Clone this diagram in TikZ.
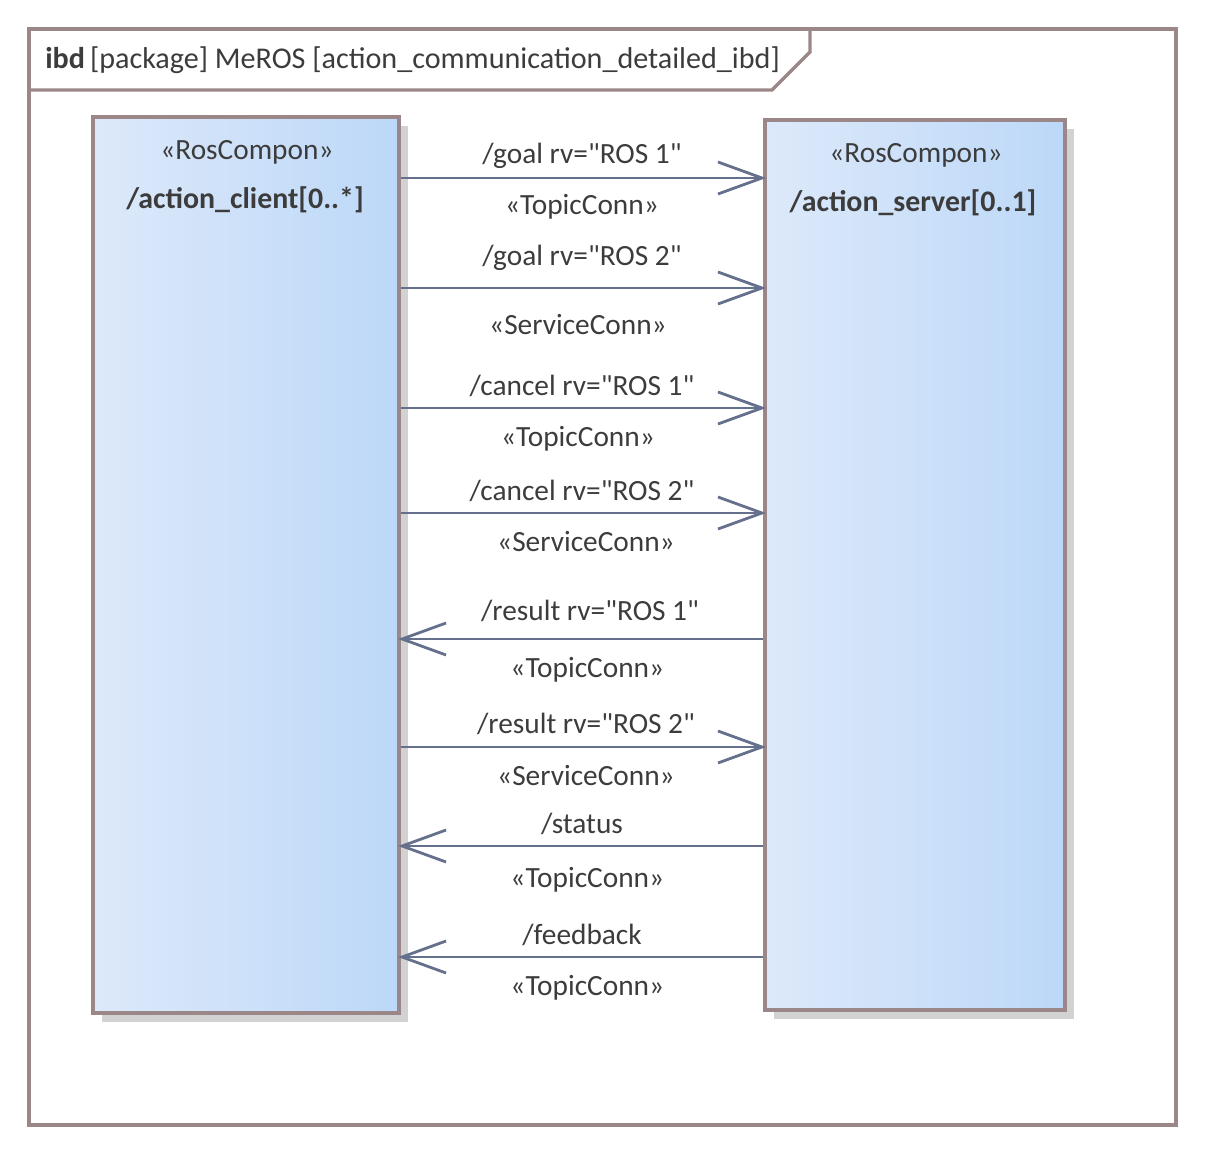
\documentclass[tikz,border=0pt]{standalone}
\usepackage{fontspec}
\setmainfont{Carlito}[Ligatures=TeXOff]
\usetikzlibrary{arrows.meta,positioning}

\definecolor{frameline}{RGB}{155,135,135}
\definecolor{connline}{RGB}{100,112,140}
\definecolor{partleft}{RGB}{221,233,250}
\definecolor{partright}{RGB}{188,216,248}
\definecolor{shadowgray}{RGB}{210,210,210}
\definecolor{textgray}{RGB}{60,60,60}

\begin{document}
\begin{tikzpicture}[
  x=0.75pt, y=-0.75pt,
  >={Straight Barb[length=33pt,width=24pt]},
  font=\fontsize{22}{26}\selectfont,
  frame/.style={draw=frameline, line width=2.5pt},
  part/.style={draw=frameline, line width=2.4pt,
               left color=partleft, right color=partright, inner sep=0pt},
  conn/.style={connline, line width=2.1pt, shorten >=-2pt},
  lbl/.style={text=textgray, inner sep=0pt},
  above lbl/.style={lbl, midway, anchor=base, yshift=#1*0.75pt},
  below lbl/.style={lbl, midway, anchor=base, yshift=-#1*0.75pt},
]
  \useasboundingbox (0,0) rectangle (1206,1155);

  %% Diagram frame with header tab
  \draw[frame] (29,29) rectangle (1176,1125);
  \draw[frame] (29,90) -- (772,90) -- (810,52) -- (810,29);
  \node[lbl, anchor=base west, font=\fontsize{22.6}{26}\selectfont] (hdr) at (45,69)
    {\textbf{ibd}\,[package] MeROS [action\_communication\_detailed\_ibd]};

  %% Shadows of the parts
  \fill[shadowgray] (102,126) rectangle (408,1022);
  \fill[shadowgray] (774,129) rectangle (1074,1019);

  %% Parts
  \node[part, minimum width=229.5pt, minimum height=672pt] (client) at (246,565) {};
  \node[part, minimum width=225pt, minimum height=667.5pt] (server) at (915,565) {};

  \node[lbl] (clientst) at (247,152) {«RosCompon»};
  \node[lbl, font=\fontsize{22.4}{26}\selectfont\bfseries] (clientnm) at (245,200)
    {/action\_client[0..*]};
  \node[lbl] (serverst) at (916,155) {«RosCompon»};
  \node[lbl, font=\fontsize{22.4}{26}\selectfont\bfseries] (servernm) at (913,203)
    {/action\_server[0..1]};

  %% Heights of the connectors
  \foreach \n/\y in {1/178, 2/288, 3/408, 4/513, 5/639, 6/747, 7/846, 8/957}
    \coordinate (c\n) at (0,\y);

  %% goal
  \draw[conn, ->] (client.east |- c1) -- (server.west |- c1)
    node[above lbl=14] {/goal rv="ROS 1"}
    node[below lbl=37] {«TopicConn»};
  \draw[conn, ->] (client.east |- c2) -- (server.west |- c2)
    node[above lbl=22] {/goal rv="ROS 2"}
    node[below lbl=47, xshift=-3pt] {«ServiceConn»};

  %% cancel
  \draw[conn, ->] (client.east |- c3) -- (server.west |- c3)
    node[above lbl=13] {/cancel rv="ROS 1"}
    node[below lbl=38, xshift=-3pt] {«TopicConn»};
  \draw[conn, ->] (client.east |- c4) -- (server.west |- c4)
    node[above lbl=13] {/cancel rv="ROS 2"}
    node[below lbl=38, xshift=3pt] {«ServiceConn»};

  %% result
  \draw[conn, ->] (server.west |- c5) -- (client.east |- c5)
    node[above lbl=19, xshift=6pt] {/result rv="ROS 1"}
    node[below lbl=38, xshift=4pt] {«TopicConn»};
  \draw[conn, ->] (client.east |- c6) -- (server.west |- c6)
    node[above lbl=14, xshift=3pt] {/result rv="ROS 2"}
    node[below lbl=38, xshift=3pt] {«ServiceConn»};

  %% status and feedback
  \draw[conn, ->] (server.west |- c7) -- (client.east |- c7)
    node[above lbl=13] {/status}
    node[below lbl=41, xshift=4pt] {«TopicConn»};
  \draw[conn, ->] (server.west |- c8) -- (client.east |- c8)
    node[above lbl=13] {/feedback}
    node[below lbl=38, xshift=4pt] {«TopicConn»};
\end{tikzpicture}
\end{document}
